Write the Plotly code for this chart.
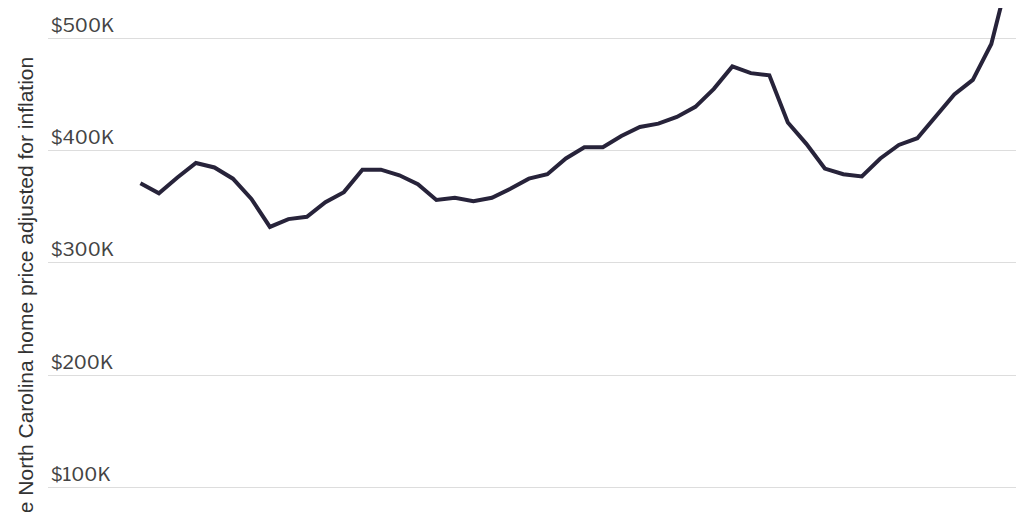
import plotly.graph_objects as go

# quarterly average home price, thousands of dollars
quarter = list(range(48))
price_k = [371, 362, 376, 389, 385, 375, 357, 332, 339, 341, 354, 363,
           383, 383, 378, 370, 356, 358, 355, 358, 366, 375, 379, 393,
           403, 403, 413, 421, 424, 430, 439, 455, 475, 469, 467, 425,
           406, 384, 379, 377, 393, 405, 411, 431, 450, 463, 495, 560]

tick_vals = [100, 200, 300, 400, 500]
tick_text = ["$100K", "$200K", "$300K", "$400K", "$500K"]

fig = go.Figure()
fig.add_trace(go.Scatter(x=quarter, y=price_k, mode="lines",
                         line=dict(color="#27233a", width=4), hoverinfo="skip"))

fig.update_layout(
    width=1024, height=512,
    margin=dict(l=0, r=0, t=0, b=0),
    paper_bgcolor="white", plot_bgcolor="white",
    showlegend=False,
    font=dict(family="Libre Franklin, Roboto, sans-serif", color="#333333", size=19),
    xaxis=dict(domain=[0.039, 1], range=[-5.0, 48.2], visible=False),
    yaxis=dict(range=[71, 527], tickvals=tick_vals, ticktext=tick_text,
               ticklabelposition="inside top", showgrid=True, gridcolor="#dddddd",
               gridwidth=1, zeroline=False, showline=False, ticks=""),
)

fig.add_annotation(text="Average North Carolina home price adjusted for inflation",
                   xref="paper", yref="paper", x=0.018, y=-0.12, xanchor="center",
                   yanchor="bottom", textangle=-90, showarrow=False,
                   font=dict(family="Liberation Sans, Arial, sans-serif", size=21, color="#333333"))

fig.write_html("out.html")
